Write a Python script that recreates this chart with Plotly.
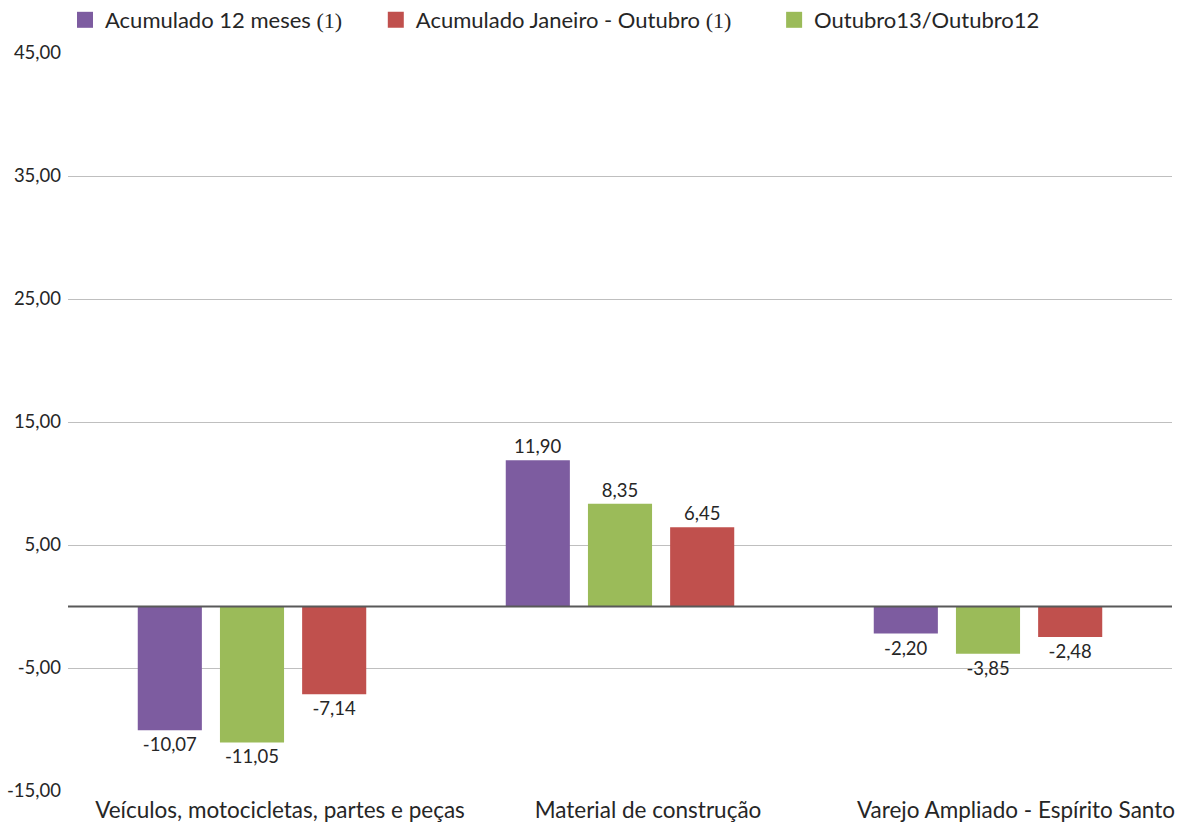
import plotly.graph_objects as go

categories = ["Veículos, motocicletas, partes e peças", "Material de construção", "Varejo Ampliado - Espírito Santo"]
acum_12 = [-10.07, 11.90, -2.20]
out13_out12 = [-11.05, 8.35, -3.85]
acum_jan_out = [-7.14, 6.45, -2.48]

y_tick_vals = [-15, -5, 5, 15, 25, 35, 45]
y_tick_text = ["-15,00", "-5,00", "5,00", "15,00", "25,00", "35,00", "45,00"]

serif = "<span style='font-family:Liberation Serif'>(1)</span>"
name_12 = "Acumulado 12 meses " + serif
name_jan = "Acumulado Janeiro - Outubro " + serif
name_out = "Outubro13/Outubro12"

colors = {name_12: "#7D5CA0", name_out: "#9BBB59", name_jan: "#C0504D"}

fig = go.Figure()
for name, vals in [(name_12, acum_12), (name_out, out13_out12), (name_jan, acum_jan_out)]:
    fig.add_trace(go.Bar(
        x=categories, y=vals, name=name, marker_color=colors[name],
        marker_line_width=0, showlegend=False,
        texttemplate="%{y:.2f}", textposition="outside",
        textfont=dict(size=18.5, color="#262626"), cliponaxis=False,
    ))

# legend entries (square icons) in the reference's legend order, one legend each
legend_ids = ["legend", "legend2", "legend3"]
legend_x = [-0.0027, 0.2788, 0.6396]
for name, lid in zip([name_12, name_jan, name_out], legend_ids):
    fig.add_trace(go.Scatter(
        x=[None], y=[None], mode="markers", name=name, legend=lid,
        marker=dict(symbol="square", size=19, color=colors[name]),
        showlegend=True,
    ))

legend_style = dict(orientation="h", xanchor="left", y=1.0447, yanchor="middle",
                    font=dict(size=22, color="#262626"),
                    bgcolor="rgba(0,0,0,0)", itemwidth=30)

fig.update_layout(
    width=1177, height=825,
    margin=dict(l=68, r=5, t=53, b=34, autoexpand=False),
    paper_bgcolor="white", plot_bgcolor="white",
    font=dict(family="Lato, Noto Sans, sans-serif", size=18, color="#262626"),
    separators=",.",
    barmode="group", bargap=0.33, bargroupgap=0.22,
    showlegend=True,
    legend=dict(x=legend_x[0], **legend_style),
    legend2=dict(x=legend_x[1], **legend_style),
    legend3=dict(x=legend_x[2], **legend_style),
)
fig.update_yaxes(range=[-15, 45], tickvals=y_tick_vals, ticktext=y_tick_text,
                 showgrid=True, gridcolor="#BFBFBF", gridwidth=1,
                 zeroline=False, showline=False, ticks="", ticklen=0,
                 ticklabelstandoff=6,
                 tickfont=dict(size=18.5, color="#262626"))
fig.update_xaxes(showgrid=False, showline=False, ticks="", ticklabelshift=28,
                 ticklabelstandoff=3,
                 tickfont=dict(size=22.5, color="#262626"))
fig.add_hline(y=0, line=dict(color="#595959", width=2))

fig.write_html("out.html", config={"displayModeBar": False},
               post_script="document.body.style.margin='0';")
